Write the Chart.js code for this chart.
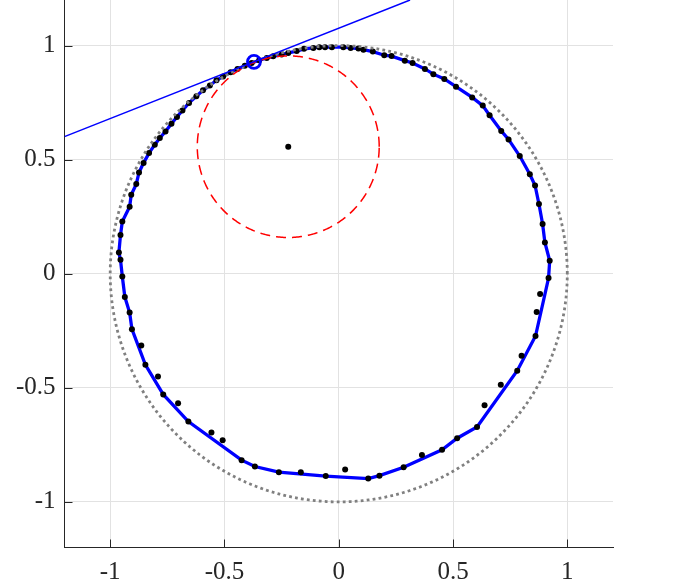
<!DOCTYPE html>
<html><head><meta charset="utf-8">
<script src="https://cdn.jsdelivr.net/npm/chart.js@4.4.0/dist/chart.umd.min.js"></script>
<style>html,body{margin:0;padding:0;background:#fff;overflow:hidden;} #wrap{width:677px;height:584px;}</style>
</head><body><div id="wrap"><canvas id="c" width="677" height="584"></canvas></div>
<script>
// ---- data ----
const xTicks = [-1, -0.5, 0, 0.5, 1];
const yTicks = [-1, -0.5, 0, 0.5, 1];
const axisMin = -1.2, axisMax = 1.2;

// all black sample dots
const dotsX = [0.020,0.052,0.086,0.108,0.149,0.199,0.231,0.289,0.323,0.377,0.414,0.462,0.513,0.584,0.630,0.660,0.711,0.743,0.792,0.836,0.859,0.876,0.892,0.902,0.923,0.918,0.881,0.866,0.861,0.800,0.781,0.709,0.638,0.605,0.518,0.452,0.364,0.284,0.178,0.129,0.028,-0.057,-0.166,-0.262,-0.367,-0.425,-0.508,-0.557,-0.658,-0.703,-0.768,-0.791,-0.846,-0.864,-0.905,-0.915,-0.936,-0.947,-0.955,-0.962,-0.955,-0.947,-0.915,-0.908,-0.886,-0.874,-0.854,-0.830,-0.805,-0.783,-0.758,-0.732,-0.708,-0.684,-0.655,-0.623,-0.594,-0.564,-0.535,-0.506,-0.473,-0.443,-0.411,-0.381,-0.348,-0.315,-0.287,-0.250,-0.221,-0.184,-0.152,-0.111,-0.085,-0.060,-0.030];
const dotsY = [0.993,0.990,0.987,0.982,0.974,0.958,0.954,0.934,0.924,0.898,0.875,0.854,0.820,0.773,0.737,0.695,0.626,0.589,0.516,0.436,0.387,0.306,0.218,0.137,0.057,-0.019,-0.089,-0.168,-0.273,-0.359,-0.425,-0.487,-0.576,-0.672,-0.721,-0.772,-0.794,-0.848,-0.885,-0.898,-0.858,-0.887,-0.870,-0.870,-0.845,-0.817,-0.730,-0.696,-0.648,-0.568,-0.529,-0.450,-0.399,-0.314,-0.243,-0.170,-0.102,-0.012,0.061,0.093,0.170,0.229,0.294,0.346,0.393,0.444,0.486,0.529,0.566,0.595,0.624,0.658,0.687,0.716,0.749,0.778,0.804,0.825,0.848,0.865,0.883,0.898,0.912,0.924,0.936,0.946,0.953,0.961,0.968,0.976,0.986,0.990,0.993,0.993,0.993];

// blue estimated contour (closed polyline)
const curveX = [0.020,0.052,0.086,0.108,0.149,0.199,0.231,0.289,0.323,0.377,0.414,0.462,0.513,0.584,0.630,0.660,0.711,0.743,0.792,0.836,0.859,0.876,0.892,0.902,0.923,0.918,0.861,0.781,0.605,0.518,0.452,0.284,0.178,0.129,-0.057,-0.262,-0.367,-0.425,-0.658,-0.768,-0.846,-0.905,-0.915,-0.936,-0.947,-0.955,-0.962,-0.955,-0.947,-0.915,-0.908,-0.886,-0.874,-0.854,-0.830,-0.805,-0.783,-0.758,-0.732,-0.708,-0.684,-0.655,-0.623,-0.594,-0.564,-0.535,-0.506,-0.473,-0.443,-0.411,-0.381,-0.348,-0.315,-0.287,-0.250,-0.221,-0.184,-0.152,-0.111,-0.085,-0.060,-0.030,0.020];
const curveY = [0.993,0.990,0.987,0.982,0.974,0.958,0.954,0.934,0.924,0.898,0.875,0.854,0.820,0.773,0.737,0.695,0.626,0.589,0.516,0.436,0.387,0.306,0.218,0.137,0.057,-0.019,-0.273,-0.425,-0.672,-0.721,-0.772,-0.848,-0.885,-0.898,-0.887,-0.870,-0.845,-0.817,-0.648,-0.529,-0.399,-0.243,-0.170,-0.102,-0.012,0.061,0.093,0.170,0.229,0.294,0.346,0.393,0.444,0.486,0.529,0.566,0.595,0.624,0.658,0.687,0.716,0.749,0.778,0.804,0.825,0.848,0.865,0.883,0.898,0.912,0.924,0.936,0.946,0.953,0.961,0.968,0.976,0.986,0.990,0.993,0.993,0.993,0.993];

const unitCenter = [0, 0];
const unitRadius = 1;
const redCenter = [-0.221, 0.557];
const redRadius = 0.398;
const markerX = [-0.371];
const markerY = [0.929];
const tangentX = [-1.2, 0.312];
const tangentY = [0.601, 1.2];

// ---- helpers ----
const pts = (xs, ys) => xs.map((x, i) => ({x: x, y: ys[i]}));
function circlePts(c, r, n) {
  const out = [];
  for (let i = 0; i <= n; i++) {
    const t = 2 * Math.PI * i / n;
    out.push({x: c[0] + r * Math.cos(t), y: c[1] + r * Math.sin(t)});
  }
  return out;
}

const FONT = {family: "'Liberation Serif', 'Times New Roman', serif", size: 25};
const TXT = '#262626';
const AXIS = '#262626';
const GRID = '#e2e2e2';

const zeroPad = s => { s.paddingTop = 0; s.paddingBottom = 0; s.paddingLeft = 0; s.paddingRight = 0; };

const inwardTicks = {
  id: 'inwardTicks',
  afterDraw(chart) {
    const {ctx, chartArea, scales} = chart;
    ctx.save();
    ctx.strokeStyle = AXIS;
    ctx.lineWidth = 1;
    ctx.beginPath();
    xTicks.forEach(v => {
      const px = Math.round(scales.x.getPixelForValue(v)) + 0.5;
      ctx.moveTo(px, chartArea.bottom);
      ctx.lineTo(px, chartArea.bottom - 8);
    });
    yTicks.forEach(v => {
      const py = Math.round(scales.y.getPixelForValue(v)) + 0.5;
      ctx.moveTo(chartArea.left, py);
      ctx.lineTo(chartArea.left + 8, py);
    });
    ctx.stroke();
    ctx.restore();
  }
};
const whiteBg = {
  id: 'whiteBg',
  beforeDraw(chart) {
    const ctx = chart.ctx;
    ctx.save(); ctx.fillStyle = '#fff'; ctx.fillRect(0, 0, chart.width, chart.height); ctx.restore();
  }
};

new Chart(document.getElementById('c'), {
  type: 'scatter',
  data: {
    datasets: [
      {data: pts(markerX, markerY), showLine: false, pointRadius: 6.5, pointBorderWidth: 2.8,
       pointBorderColor: 'rgb(0,0,255)', pointBackgroundColor: 'rgba(0,0,0,0)'},
      {data: pts(tangentX, tangentY), showLine: true, borderColor: 'rgb(0,0,255)', borderWidth: 1.5, pointRadius: 0},
      {data: circlePts(redCenter, redRadius, 400), showLine: true, borderColor: 'rgb(255,0,0)', borderWidth: 1.5,
       borderDash: [10, 6], pointRadius: 0},
      {data: pts([redCenter[0]], [redCenter[1]]), showLine: false, pointRadius: 3,
       pointBackgroundColor: '#000', pointBorderColor: '#000', pointBorderWidth: 0},
      {data: circlePts(unitCenter, unitRadius, 720), showLine: true, borderColor: 'rgb(128,128,128)', borderWidth: 2.8,
       borderDash: [2.8, 3.2], pointRadius: 0},
      {data: pts(dotsX, dotsY), showLine: false, pointRadius: 3,
       pointBackgroundColor: '#000', pointBorderColor: '#000', pointBorderWidth: 0},
      {data: pts(curveX, curveY), showLine: true, borderColor: 'rgb(0,0,255)', borderWidth: 3.3, pointRadius: 0, tension: 0}
    ]
  },
  options: {
    responsive: false,
    devicePixelRatio: 1,
    animation: false,
    layout: {autoPadding: false, padding: {top: 0, right: 64, bottom: 0, left: 0}},
    plugins: {legend: {display: false}, tooltip: {enabled: false}},
    scales: {
      x: {
        type: 'linear', min: axisMin, max: axisMax,
        afterBuildTicks: s => { s.ticks = xTicks.map(v => ({value: v})); },
        afterFit: s => { s.height = 36.5; zeroPad(s); },
        grid: {color: GRID, lineWidth: 1, drawTicks: false},
        border: {color: AXIS, width: 1},
        ticks: {font: FONT, color: TXT, padding: 10, maxRotation: 0, autoSkip: false, callback: v => String(v)}
      },
      y: {
        type: 'linear', min: axisMin, max: axisMax,
        afterBuildTicks: s => { s.ticks = yTicks.map(v => ({value: v})); },
        afterFit: s => { s.width = 64.5; zeroPad(s); },
        grid: {color: GRID, lineWidth: 1, drawTicks: false},
        border: {color: AXIS, width: 1},
        ticks: {font: FONT, color: TXT, padding: 9, autoSkip: false, callback: v => String(v)}
      }
    }
  },
  plugins: [whiteBg, inwardTicks]
});
</script>
</body></html>
